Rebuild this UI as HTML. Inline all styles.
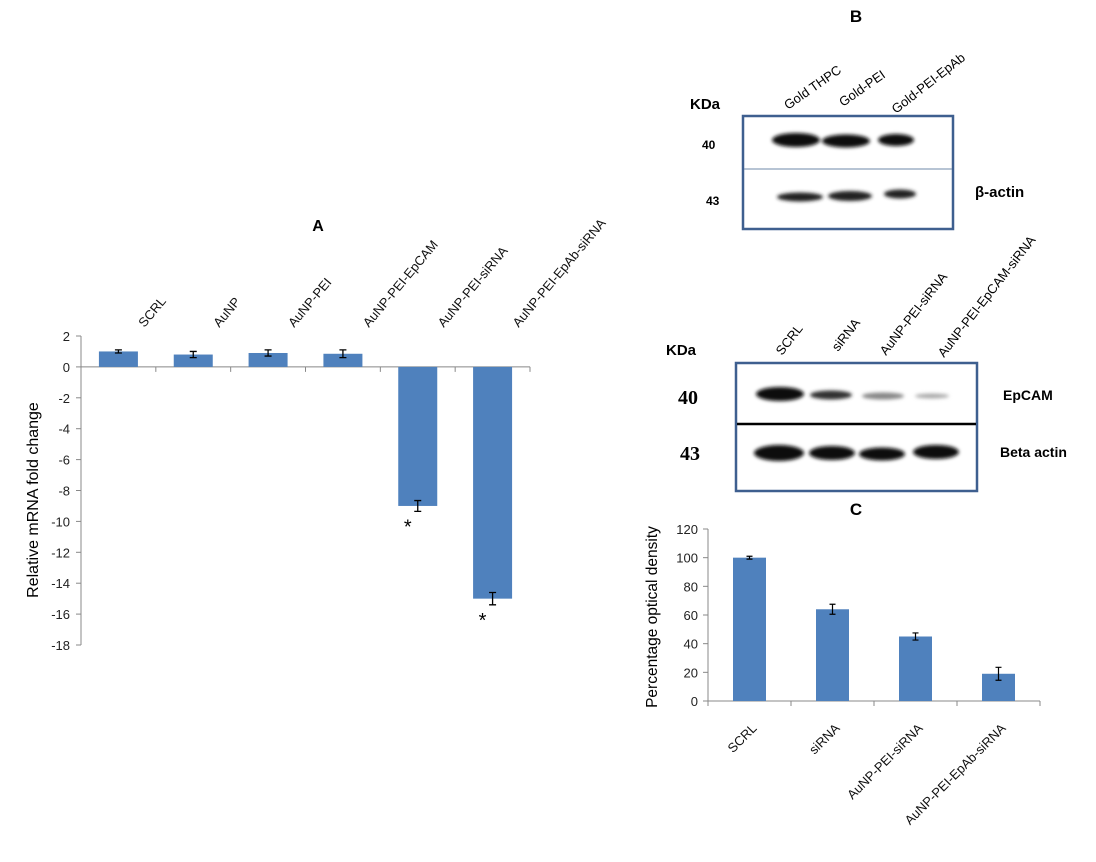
<!DOCTYPE html>
<html><head><meta charset="utf-8"><style>
body{margin:0;background:#fff;}
svg{display:block;font-family:"Liberation Sans",sans-serif;}
</style></head><body>
<svg width="1096" height="862" viewBox="0 0 1096 862">
<defs>
<filter id="bl" x="-30%" y="-100%" width="160%" height="300%"><feGaussianBlur stdDeviation="1.8"/></filter>
</defs>
<g id="panelA"></g>
<g id="panelC"></g>

<g>
<text x="856" y="22" font-size="17" font-weight="bold" text-anchor="middle">B</text>
<text x="690" y="109" font-size="15" font-weight="bold">KDa</text>
<g font-size="13">
<text transform="translate(788,110) rotate(-35)">Gold THPC</text>
<text transform="translate(843,107) rotate(-35)">Gold-PEI</text>
<text transform="translate(896,114) rotate(-38)">Gold-PEI-EpAb</text>
</g>
<rect x="743" y="116" width="210" height="113" fill="#fff" stroke="#3e5f8f" stroke-width="2.5"/>
<line x1="744" y1="169" x2="952" y2="169" stroke="#6f88aa" stroke-width="1"/>
<g filter="url(#bl)" fill="#111">
<ellipse cx="796" cy="140" rx="24" ry="7"/>
<ellipse cx="846" cy="141" rx="24" ry="6.5"/>
<ellipse cx="896" cy="140" rx="18" ry="6"/>
<ellipse cx="800" cy="197" rx="23" ry="4.5" fill="#222"/>
<ellipse cx="850" cy="196" rx="22" ry="5" fill="#222"/>
<ellipse cx="900" cy="194" rx="16" ry="4.5" fill="#222"/>
</g>
<text x="702" y="149" font-size="12" font-weight="bold">40</text>
<text x="706" y="205" font-size="12" font-weight="bold">43</text>
<text x="975" y="197" font-size="15" font-weight="bold">β-actin</text>

<text x="666" y="355" font-size="15" font-weight="bold">KDa</text>
<g font-size="13">
<text transform="translate(782,356) rotate(-52)">SCRL</text>
<text transform="translate(838,352) rotate(-52)">siRNA</text>
<text transform="translate(886,356) rotate(-52)">AuNP-PEI-siRNA</text>
<text transform="translate(944,358) rotate(-52)">AuNP-PEI-EpCAM-siRNA</text>
</g>
<rect x="736" y="363" width="241" height="128" fill="#fff" stroke="#3e5f8f" stroke-width="2.5"/>
<line x1="737" y1="424" x2="976" y2="424" stroke="#000" stroke-width="2.5"/>
<g filter="url(#bl)">
<ellipse cx="780" cy="394" rx="24" ry="7" fill="#0a0a0a"/>
<ellipse cx="831" cy="395" rx="21" ry="4.5" fill="#333"/>
<ellipse cx="883" cy="396" rx="21" ry="3.5" fill="#888"/>
<ellipse cx="932" cy="396" rx="17" ry="2.5" fill="#aaa"/>
<ellipse cx="779" cy="453" rx="25" ry="8" fill="#0a0a0a"/>
<ellipse cx="832" cy="453" rx="23" ry="7" fill="#0a0a0a"/>
<ellipse cx="882" cy="454" rx="23" ry="6.5" fill="#0a0a0a"/>
<ellipse cx="936" cy="452" rx="23" ry="7" fill="#0a0a0a"/>
</g>
<text x="678" y="404" font-size="20" font-weight="bold" font-family="Liberation Serif,serif">40</text>
<text x="680" y="460" font-size="20" font-weight="bold" font-family="Liberation Serif,serif">43</text>
<text x="1003" y="400" font-size="14" font-weight="bold">EpCAM</text>
<text x="1000" y="457" font-size="14" font-weight="bold">Beta actin</text>
</g>
</svg>
<script>
const NS='http://www.w3.org/2000/svg';
function mk(p,t,a,txt){const e=document.createElementNS(NS,t);for(const k in a)e.setAttribute(k,a[k]);if(txt!==undefined)e.textContent=txt;p.appendChild(e);return e;}

// Panel A data
const aCategories=['SCRL','AuNP','AuNP-PEI','AuNP-PEI-EpCAM','AuNP-PEI-siRNA','AuNP-PEI-EpAb-siRNA'];
const aValues=[1,0.8,0.9,0.85,-9,-15];
const aErrors=[0.1,0.2,0.2,0.25,0.35,0.4];
const aTicks=[2,0,-2,-4,-6,-8,-10,-12,-14,-16,-18];
const aStars=[false,false,false,false,true,true];

// Panel C data
const cCategories=['SCRL','siRNA','AuNP-PEI-siRNA','AuNP-PEI-EpAb-siRNA'];
const cValues=[100,64,45,19];
const cErrors=[1,3.5,2.5,4.5];
const cTicks=[0,20,40,60,80,100,120];

(function(){
const g=document.getElementById('panelA');
const x0=81,x1=530,yTop=336,yBot=645,vMax=2,vMin=-18;
const y=v=>yTop+(vMax-v)/(vMax-vMin)*(yBot-yTop);
const bw=(x1-x0)/aCategories.length;
let t=mk(g,'text',{x:318,y:231,'font-size':16,'font-weight':'bold','text-anchor':'middle'},'A');

mk(g,'line',{x1:x0,y1:yTop,x2:x0,y2:yBot,stroke:'#888'});
aTicks.forEach(v=>{mk(g,'line',{x1:x0-5,y1:y(v),x2:x0,y2:y(v),stroke:'#888'});
const l=mk(g,'text',{x:x0-11,y:y(v)+5,'font-size':13,'text-anchor':'end',fill:'#222'},String(v));
});
mk(g,'line',{x1:x0,y1:y(0),x2:x1,y2:y(0),stroke:'#888'});
for(let i=1;i<=aCategories.length;i++)mk(g,'line',{x1:x0+i*bw,y1:y(0),x2:x0+i*bw,y2:y(0)+5,stroke:'#888'});
aCategories.forEach((c,i)=>{
const cx=x0+bw*(i+0.5),v=aValues[i];
const r=mk(g,'rect',{x:cx-19.5,y:Math.min(y(v),y(0)),width:39,height:Math.abs(y(v)-y(0)),fill:'#4f81bd'});

const e=aErrors[i],ya=y(v+e),yb=y(v-e);
mk(g,'path',{d:`M${cx},${ya}V${yb}M${cx-3.5},${ya}h7M${cx-3.5},${yb}h7`,stroke:'#000','stroke-width':1.3,fill:'none'});
const l=mk(g,'text',{transform:`translate(${cx+26},${328}) rotate(-50)`,'font-size':13,fill:'#111'},c);

if(aStars[i]){const s=mk(g,'text',{x:cx-10,y:y(v-e)+22,'font-size':20,'text-anchor':'middle'},'*');
}
});
const yt=mk(g,'text',{transform:'translate(38,500) rotate(-90)','font-size':16,'text-anchor':'middle'},'Relative mRNA fold change');

})();

(function(){
const g=document.getElementById('panelC');
const x0=708,x1=1040,yTop=529,yBot=701,vMax=120,vMin=0;
const y=v=>yTop+(vMax-v)/(vMax-vMin)*(yBot-yTop);
const bw=(x1-x0)/cCategories.length;
let t=mk(g,'text',{x:856,y:515,'font-size':17,'font-weight':'bold','text-anchor':'middle'},'C');

mk(g,'line',{x1:x0,y1:yTop,x2:x0,y2:yBot,stroke:'#888'});
cTicks.forEach(v=>{mk(g,'line',{x1:x0-5,y1:y(v),x2:x0,y2:y(v),stroke:'#888'});
const l=mk(g,'text',{x:x0-10,y:y(v)+5,'font-size':13,'text-anchor':'end',fill:'#222'},String(v));
});
mk(g,'line',{x1:x0,y1:y(0),x2:x1,y2:y(0),stroke:'#888'});
for(let i=0;i<=cCategories.length;i++)mk(g,'line',{x1:x0+i*bw,y1:y(0),x2:x0+i*bw,y2:y(0)+5,stroke:'#888'});
cCategories.forEach((c,i)=>{
const cx=x0+bw*(i+0.5),v=cValues[i];
const r=mk(g,'rect',{x:cx-16.5,y:y(v),width:33,height:y(0)-y(v),fill:'#4f81bd'});

const e=cErrors[i],ya=y(v+e),yb=y(v-e);
mk(g,'path',{d:`M${cx},${ya}V${yb}M${cx-3},${ya}h6M${cx-3},${yb}h6`,stroke:'#000','stroke-width':1.2,fill:'none'});
const l=mk(g,'text',{transform:`translate(${cx+8},${y(0)+28}) rotate(-45)`,'font-size':13,'text-anchor':'end',fill:'#111'},c);

});
const yt=mk(g,'text',{transform:'translate(657,617) rotate(-90)','font-size':15.5,'text-anchor':'middle'},'Percentage optical density');

})();
</script>
</body></html>
